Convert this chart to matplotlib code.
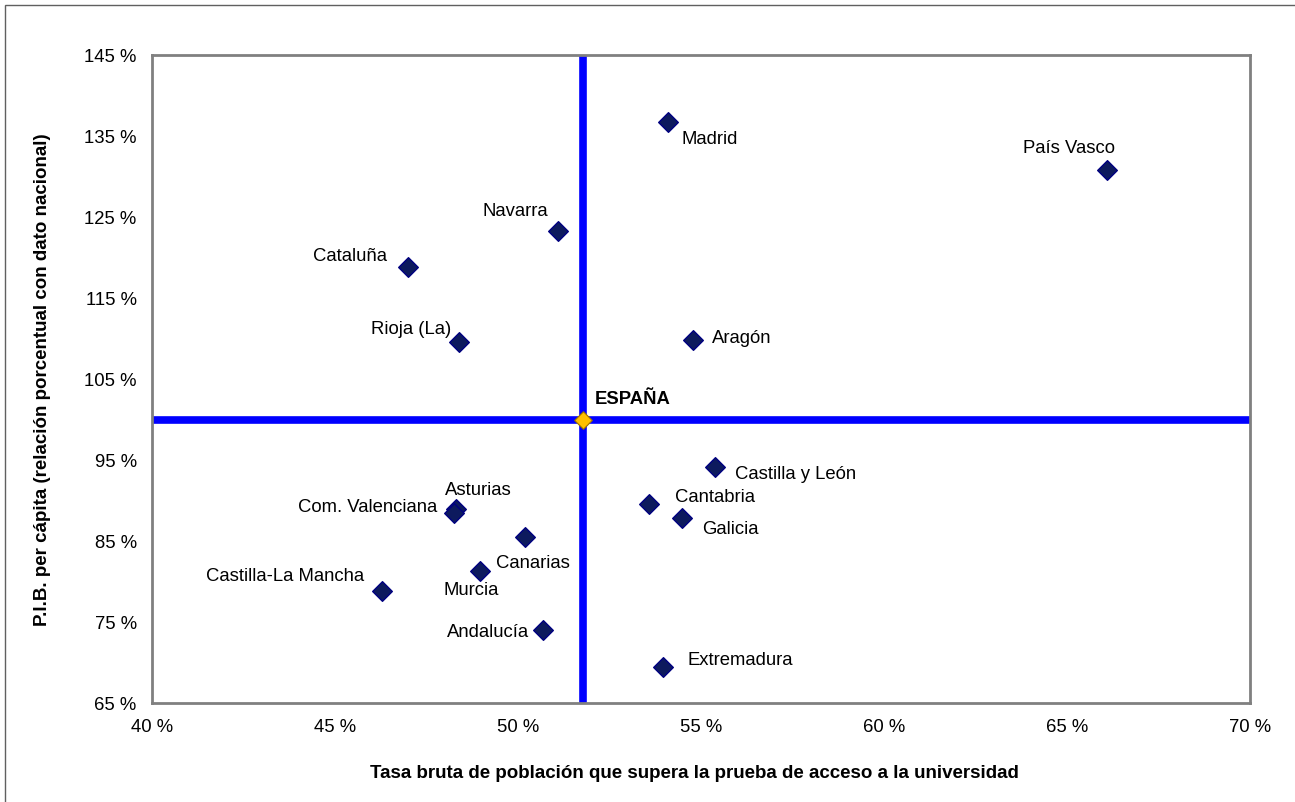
import matplotlib
matplotlib.use("Agg")
import matplotlib.pyplot as plt
from matplotlib.patches import Rectangle
from matplotlib.ticker import FuncFormatter

plt.rcParams['font.family'] = ['Liberation Sans', 'DejaVu Sans']

regions = ["Madrid", "País Vasco", "Navarra", "Cataluña", "Rioja (La)", "Aragón",
           "Castilla y León", "Cantabria", "Galicia", "Asturias", "Com. Valenciana",
           "Canarias", "Murcia", "Castilla-La Mancha", "Andalucía", "Extremadura"]
tasa = [54.10, 66.09, 51.09, 46.99, 48.39, 54.78,
        55.38, 53.58, 54.48, 48.30, 48.26,
        50.19, 48.96, 46.28, 50.68, 53.96]
pib = [136.7, 130.8, 123.3, 118.8, 109.6, 109.8,
       94.1, 89.6, 87.8, 88.9, 88.5,
       85.5, 81.3, 78.8, 74.0, 69.4]
espana_tasa = 51.78
espana_pib = 100.0

# label offsets in pixels (dx, dy) and horizontal alignment
label_pos = {
    "Madrid": (13, -16, "left"),
    "País Vasco": (8, 23, "right"),
    "Navarra": (-10, 20, "right"),
    "Cataluña": (-21, 12, "right"),
    "Rioja (La)": (-8, 13, "right"),
    "Aragón": (19, 3, "left"),
    "Castilla y León": (20, -6, "left"),
    "Cantabria": (26, 7, "left"),
    "Galicia": (20, -10, "left"),
    "Asturias": (-11, 20, "left"),
    "Com. Valenciana": (-17, 6, "right"),
    "Canarias": (-29, -26, "left"),
    "Murcia": (-36, -19, "left"),
    "Castilla-La Mancha": (-18, 16, "right"),
    "Andalucía": (-14, -1, "right"),
    "Extremadura": (25, 8, "left"),
}

fs = 13.3

fig = plt.figure(figsize=(12.95, 8.03), dpi=100)
ax = fig.add_axes([152 / 1295, 1 - 704 / 803, 1098 / 1295, 648 / 803])

ax.axvline(espana_tasa, color="#0000ff", lw=5.5, zorder=2)
ax.axhline(espana_pib, color="#0000ff", lw=5.5, zorder=2)

ax.scatter(tasa, pib, marker="D", s=100, color="#0d1a5e", edgecolors="#000080",
           linewidths=1, zorder=3)
ax.scatter([espana_tasa], [espana_pib], marker="D", s=80, color="#ffc000",
           edgecolors="#9a7000", linewidths=0.8, zorder=4)

for name, x, y in zip(regions, tasa, pib):
    dx, dy, ha = label_pos[name]
    ax.annotate(name, (x, y), xytext=(dx, dy), textcoords="offset pixels",
                ha=ha, va="center", fontsize=fs, color="black")
ax.annotate("ESPAÑA", (espana_tasa, espana_pib), xytext=(12, 21),
            textcoords="offset pixels", ha="left", va="center",
            fontsize=fs, fontweight="bold")

ax.set_xlim(40, 70)
ax.set_ylim(65, 145)
ax.set_xticks(range(40, 71, 5))
ax.set_yticks(range(65, 146, 10))
fmt = FuncFormatter(lambda v, p: f"{v:.0f} %")
ax.xaxis.set_major_formatter(fmt)
ax.yaxis.set_major_formatter(fmt)
ax.tick_params(length=0, labelsize=fs, pad=11)
for sp in ax.spines.values():
    sp.set_color("#808080")
    sp.set_linewidth(2)

fig.text(694 / 1295, 1 - 774 / 803,
         "Tasa bruta de población que supera la prueba de acceso a la universidad",
         ha="center", va="center", fontsize=13.5, fontweight="bold")
fig.text(43 / 1295, 1 - 380 / 803,
         "P.I.B. per cápita (relación porcentual con dato nacional)",
         ha="center", va="center", rotation=90, fontsize=13.5, fontweight="bold")

fig.patches.append(Rectangle((5 / 1295, -0.5), 2, 1 - 6 / 803 + 0.5,
                             transform=fig.transFigure, fill=False,
                             edgecolor="#606060", lw=1))

fig.savefig("out.png", dpi=100)
